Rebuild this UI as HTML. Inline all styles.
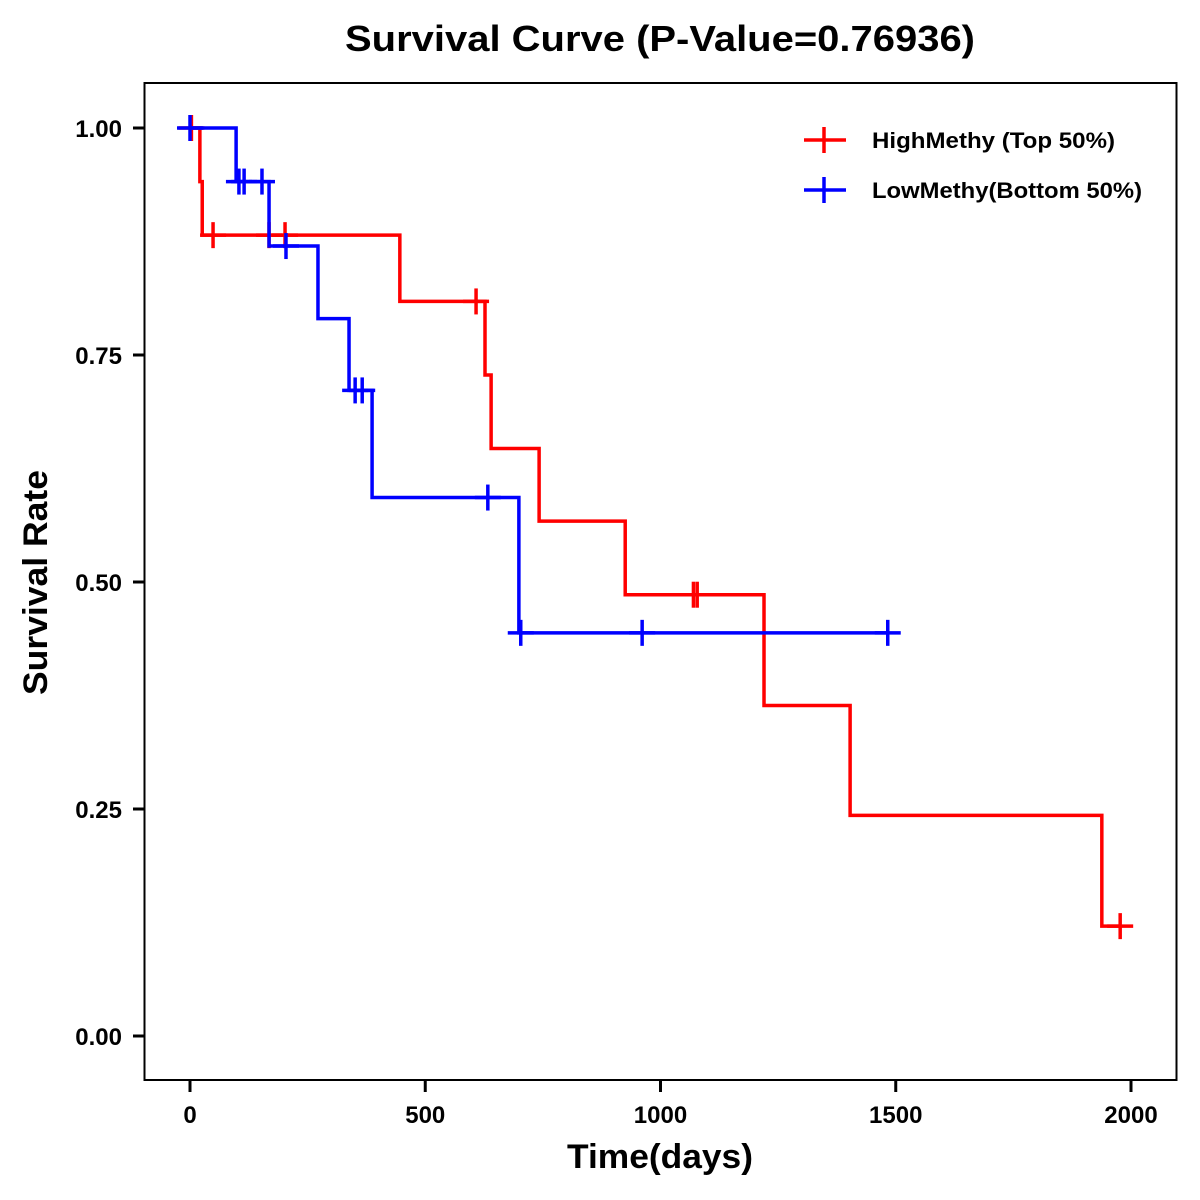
<!DOCTYPE html>
<html><head><meta charset="utf-8"><style>
html,body{margin:0;padding:0;background:#fff;}
svg{display:block;font-family:"Liberation Sans",Arial,sans-serif;font-weight:bold;}
</style></head><body>
<svg id="chart" width="1200" height="1200" viewBox="0 0 1200 1200" xmlns="http://www.w3.org/2000/svg">
<rect width="1200" height="1200" fill="#fff"/>
<text x="345" y="51" font-size="36" textLength="630" lengthAdjust="spacingAndGlyphs">Survival Curve (P-Value=0.76936)</text>
<rect x="144.5" y="83" width="1032" height="997" fill="none" stroke="#000" stroke-width="2"/>
<g id="xaxis"></g>
<g id="yaxis"></g>
<text x="567" y="1168" font-size="34" textLength="186" lengthAdjust="spacingAndGlyphs">Time(days)</text>
<text transform="translate(47,695) rotate(-90)" font-size="34" textLength="225" lengthAdjust="spacingAndGlyphs">Survival Rate</text>
<g id="series"></g>
<g>
 <g>
  <line x1="804" y1="140" x2="846" y2="140" stroke="#f00" stroke-width="3.5"/>
  <line x1="824" y1="127" x2="824" y2="153" stroke="#f00" stroke-width="3.5"/>
  <text x="872" y="148" font-size="22" textLength="243" lengthAdjust="spacingAndGlyphs">HighMethy (Top 50%)</text>
 </g>
 <g>
  <line x1="804" y1="190" x2="846" y2="190" stroke="#00f" stroke-width="3.5"/>
  <line x1="824" y1="177" x2="824" y2="203" stroke="#00f" stroke-width="3.5"/>
  <text x="872" y="198" font-size="22" textLength="270" lengthAdjust="spacingAndGlyphs">LowMethy(Bottom 50%)</text>
 </g>
</g>
</svg>
<script>
const xTicks = [0, 500, 1000, 1500, 2000];
const yTicks = [0, 0.25, 0.5, 0.75, 1.0];
const yTickLabels = ["0.00", "0.25", "0.50", "0.75", "1.00"];
// High methylation group: step times and survival after each step
const highTimes = [0, 21, 26, 446, 627, 640, 742, 925, 1220, 1403, 1938, 1977];
const highSurv  = [1.0, 0.941, 0.882, 0.809, 0.728, 0.647, 0.567, 0.486, 0.364, 0.243, 0.121, 0.121];
const highCensor = [3, 49, 168, 202, 608, 1070, 1078, 1977];
// Low methylation group
const lowTimes = [0, 98, 168, 272, 338, 387, 699, 1483];
const lowSurv  = [1.0, 0.941, 0.870, 0.790, 0.711, 0.593, 0.444, 0.444];
const lowCensor = [0, 104, 115, 153, 204, 351, 366, 633, 703, 961, 1483];

const NS = "http://www.w3.org/2000/svg";
function X(d){ return 190 + d * (1131 - 190) / 2000; }
function Y(s){ return 1036 - s * (1036 - 128); }
function mk(tag, attrs, parent){
  const e = document.createElementNS(NS, tag);
  for (const k in attrs) e.setAttribute(k, attrs[k]);
  parent.appendChild(e); return e;
}
const xa = document.getElementById('xaxis');
xTicks.forEach(t => {
  const l = mk('line', {x1:X(t), x2:X(t), y1:1080, y2:1092, stroke:'#000', 'stroke-width':3}, xa);
  
  
  const tx = mk('text', {x:X(t), y:1123, 'text-anchor':'middle', 'font-size':24}, xa);
  tx.textContent = t;
  
  
});
const ya = document.getElementById('yaxis');
yTicks.forEach((t, i) => {
  const l = mk('line', {x1:133, x2:144, y1:Y(t), y2:Y(t), stroke:'#000', 'stroke-width':3}, ya);
  
  
  const tx = mk('text', {x:122, y:Y(t) + 9, 'text-anchor':'end', 'font-size':24}, ya);
  tx.textContent = yTickLabels[i];
  
  
});
function survAt(times, surv, t){
  let s = surv[0];
  for (let i = 0; i < times.length; i++) if (times[i] <= t) s = surv[i];
  return s;
}
const sg = document.getElementById('series');
function drawSeries(times, surv, cens, color, name){
  let d = 'M' + X(times[0]) + ' ' + Y(surv[0]);
  for (let i = 1; i < times.length; i++){
    d += ' H' + X(times[i]) + ' V' + Y(surv[i]);
  }
  const p = mk('path', {d:d, fill:'none', stroke:color, 'stroke-width':3.5, 'stroke-linejoin':'miter'}, sg);
  
  
  cens.forEach(c => {
    const s = survAt(times, surv, c);
    const g = mk('g', {}, sg);
    
    
    mk('line', {x1:X(c) - 13, x2:X(c) + 13, y1:Y(s), y2:Y(s), stroke:color, 'stroke-width':3.5}, g);
    mk('line', {x1:X(c), x2:X(c), y1:Y(s) - 13, y2:Y(s) + 13, stroke:color, 'stroke-width':3.5}, g);
  });
}
drawSeries(highTimes, highSurv, highCensor, '#f00', 'high-methy');
drawSeries(lowTimes, lowSurv, lowCensor, '#00f', 'low-methy');
</script>
</body></html>
